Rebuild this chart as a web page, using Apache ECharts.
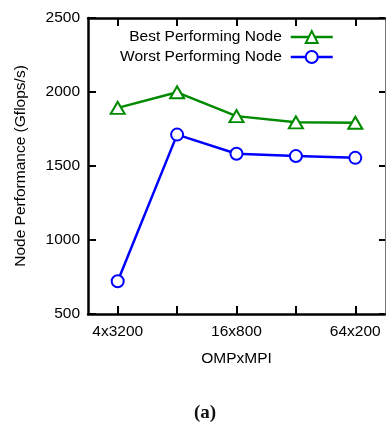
<!DOCTYPE html>
<html>
<head>
<meta charset="utf-8">
<script src="https://cdn.jsdelivr.net/npm/echarts@6/dist/echarts.min.js"></script>
<style>
  html, body { margin: 0; padding: 0; background: #fff; }
  #chart { width: 386px; height: 425px; }
</style>
</head>
<body>
<div id="chart"></div>
<script>
// OMP threads x MPI ranks
const categories = ["4x3200", "8x1600", "16x800", "32x400", "64x200"];
const bestNode = [1893, 1998, 1837, 1795, 1792];
const worstNode = [721, 1712, 1583, 1567, 1555];
const yTicks = { min: 500, max: 2500, step: 500 };

const font = "Liberation Sans";
const green = "#008a00";
const blue = "#0000ff";

const chart = echarts.init(document.getElementById("chart"));

// ticks point into the plot, like the gnuplot frame
const tick = { show: true, inside: true, length: 8, lineStyle: { color: "#000", width: 2 } };

const option = {
  animation: false,
  backgroundColor: "#fff",
  textStyle: { fontFamily: font },
  grid: { left: 88, right: 1, top: 18, bottom: 111 },
  legend: {
    orient: "vertical",
    align: "right",
    right: 47,
    top: 24,
    itemWidth: 42,
    itemHeight: 15,
    itemGap: 4,
    lineStyle: { width: 2.5 },
    textStyle: { fontFamily: font, fontSize: 15.5, color: "#000", padding: [0, 4, 0, 0] },
    data: ["Best Performing Node", "Worst Performing Node"]
  },
  xAxis: [
    {
      type: "category",
      data: categories,
      boundaryGap: true,
      name: "OMPxMPI",
      nameLocation: "middle",
      nameGap: 37,
      nameTextStyle: { fontFamily: font, fontSize: 15.5, color: "#000" },
      axisLine: { onZero: false, lineStyle: { color: "#000", width: 2.5 } },
      axisTick: Object.assign({ interval: 0, alignWithLabel: true }, tick),
      axisLabel: { interval: 1, margin: 10, fontFamily: font, fontSize: 15.5, color: "#000" },
      splitLine: { show: false }
    },
    {
      type: "category",
      data: categories,
      position: "top",
      boundaryGap: true,
      axisLine: { onZero: false, lineStyle: { color: "#000", width: 2.5 } },
      axisTick: Object.assign({ interval: 0, alignWithLabel: true }, tick),
      axisLabel: { show: false },
      splitLine: { show: false }
    }
  ],
  yAxis: [
    {
      type: "value",
      min: yTicks.min,
      max: yTicks.max,
      interval: yTicks.step,
      name: "Node Performance (Gflops/s)",
      nameLocation: "middle",
      nameGap: 59,
      nameTextStyle: { fontFamily: font, fontSize: 15.5, color: "#000" },
      axisLine: { show: true, onZero: false, lineStyle: { color: "#000", width: 2.5 } },
      axisTick: tick,
      axisLabel: { margin: 8, fontFamily: font, fontSize: 15.5, color: "#000", formatter: (v) => String(v) },
      splitLine: { show: false }
    },
    {
      type: "value",
      position: "right",
      min: yTicks.min,
      max: yTicks.max,
      interval: yTicks.step,
      axisLine: { show: true, onZero: false, lineStyle: { color: "#777", width: 1 } },
      axisTick: { show: true, inside: true, length: 6, lineStyle: { color: "#000", width: 2 } },
      axisLabel: { show: false },
      splitLine: { show: false }
    }
  ],
  series: [
    {
      name: "Best Performing Node",
      type: "line",
      data: bestNode,
      symbol: "emptyTriangle",
      symbolSize: [14, 12],
      lineStyle: { color: green, width: 2.5 },
      itemStyle: { color: green, borderWidth: 2.5 }
    },
    {
      name: "Worst Performing Node",
      type: "line",
      data: worstNode,
      symbol: "emptyCircle",
      symbolSize: 12,
      lineStyle: { color: blue, width: 2.5 },
      itemStyle: { color: blue, borderWidth: 2.5 }
    }
  ],
  graphic: [
    {
      type: "text",
      left: 194,
      top: 404,
      style: {
        text: "(a)",
        font: "bold 19px 'Liberation Serif', serif",
        fill: "#111"
      }
    }
  ]
};

chart.setOption(option);
</script>
</body>
</html>
